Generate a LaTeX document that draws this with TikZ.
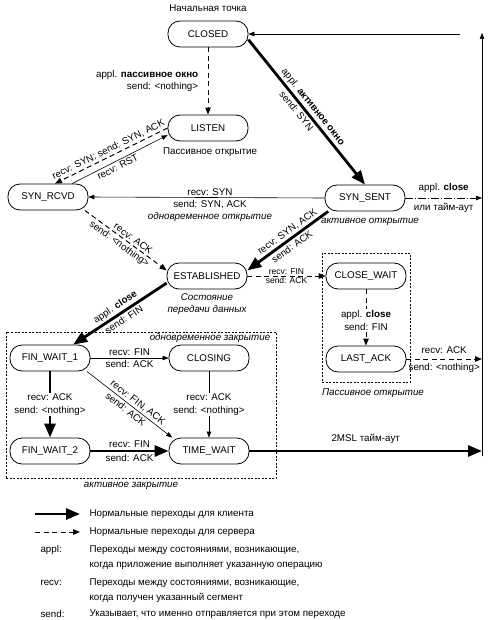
\documentclass[tikz,border=0pt]{standalone}
\usepackage{fontspec}
\setmainfont{Liberation Sans}
\usetikzlibrary{arrows.meta}
\begin{document}
\begin{tikzpicture}[x=1pt,y=-1pt,
  font=\fontsize{9.8}{11}\selectfont,
  state/.style={draw, rectangle, rounded corners=12pt, line width=0.8pt, minimum width=80pt, minimum height=26pt, inner sep=1pt},
  thickarr/.style={line width=2.8pt, -{Triangle[length=14pt,width=11pt]}},
  thinarr/.style={line width=0.6pt, -{Triangle[length=6pt,width=4.5pt]}},
  dasharr/.style={line width=1pt, dash pattern=on 5pt off 3.5pt, -{Triangle[length=7pt,width=5.5pt]}},
  dotarr/.style={line width=0.6pt, dash pattern=on 8pt off 2pt on 1pt off 2pt, -{Triangle[length=6pt,width=4.5pt]}},
  frame/.style={draw, line width=0.6pt, dash pattern=on 2pt off 1.5pt},
  lbl/.style={inner sep=2pt},
  itl/.style={font=\fontsize{9.8}{11}\selectfont\itshape},
  small/.style={font=\fontsize{8.5}{9}\selectfont, inner sep=0.5pt},
  wlbl/.style={fill=white, align=center, inner sep=1pt, font=\fontsize{9.8}{12.5}\selectfont},
]
\useasboundingbox (0,0) rectangle (488,620);

% states
\node[state] (closed) at (208,34) {CLOSED};
\node[state] (listen) at (208,128) {LISTEN};
\node[state] (synrcvd) at (48,197) {SYN\_RCVD};
\node[state] (synsent) at (365,198) {SYN\_SENT};
\node[state] (estab) at (207,276) {ESTABLISHED};
\node[state] (closewait) at (366,276) {CLOSE\_WAIT};
\node[state] (lastack) at (366,359) {LAST\_ACK};
\node[state] (fw1) at (50,358) {FIN\_WAIT\_1};
\node[state] (closing) at (209,358) {CLOSING};
\node[state] (fw2) at (50,451) {FIN\_WAIT\_2};
\node[state] (timewait) at (209,451) {TIME\_WAIT};

% helper coordinates
\coordinate (br) at (482,451);
\coordinate (bv) at (482,456);
\coordinate (tr) at (482,33);
\coordinate (tl) at (460,34);
\coordinate (rs) at (482,198);
\coordinate (rl) at (482,359);

% boxes
\node[frame, minimum width=88pt, minimum height=129pt] (pbox) at (366,317.5) {};
\node[frame, minimum width=270pt, minimum height=146pt] (abox) at (141,405) {};

% free labels
\node (start) at (208,8) {Начальная точка};
\node (plisten) at (210,152) {Пассивное открытие};
\node[itl] (simopen) at (210,217) {одновременное открытие};
\node[itl] (actopen) at (370,222) {активное открытие};
\node[itl, align=center, font=\fontsize{9.8}{12}\selectfont\itshape] (dtrans) at (207,304) {Состояние\\передачи данных};
\node[itl] (pclose) at (373,393) {Пассивное открытие};
\node[itl] (simclose) at (210,338) {одновременное закрытие};
\node[itl] (actclose) at (131,486) {активное закрытие};

% transitions
\draw[dasharr] (closed.south) -- (listen.north)
  node[midway, left=6pt, align=right, font=\fontsize{9.8}{12}\selectfont] {appl. \textbf{пассивное окно}\\send: <nothing>};
\draw[thickarr] (closed.-8) -- (synsent.north)
  node[pos=0.5, sloped, above, lbl] {appl. \textbf{активное окно}}
  node[pos=0.46, sloped, below, lbl] {send: SYN};
\draw[dasharr] (listen.west) -- ([xshift=7pt]synrcvd.north)
  node[midway, sloped, above, lbl] {recv: SYN; send: SYN, ACK};
\draw[thinarr] ([xshift=24pt]synrcvd.north) -- (listen.-170)
  node[pos=0.45, sloped, below, lbl] {recv: RST};
\draw[thinarr] (synsent.west) -- (synrcvd.east);
\node (l1) at (210,192) {recv: SYN};
\node (l2) at (210,205) {send: SYN, ACK};
\draw[dasharr] (synrcvd.-20) -- (estab.172)
  node[pos=0.55, sloped, above, lbl] {recv: ACK}
  node[pos=0.47, sloped, below, lbl] {send: <nothing>};
\draw[thickarr] (synsent.-160) -- (estab.8)
  node[pos=0.45, sloped, above, lbl] {recv: SYN, ACK}
  node[pos=0.5, sloped, below, lbl] {send: ACK};
\draw[dasharr] (estab.east) -- (closewait.west)
  node[midway, above, small] {recv: FIN}
  node[midway, below, small] {send: ACK};
\draw[dasharr] (closewait.south) -- (lastack.north)
  node[pos=0.55, wlbl] {appl. \textbf{close}\\send: FIN};
\draw[thickarr] (estab.-170) -- (fw1.30)
  node[midway, sloped, above, lbl] {appl. \textbf{close}}
  node[midway, sloped, below, lbl] {send: FIN};
\draw[thinarr] (fw1.east) -- (closing.west)
  node[midway, above, lbl] {recv: FIN}
  node[midway, below, lbl] {send: ACK};
\draw[thinarr] (fw1.-20) -- (timewait.160)
  node[pos=0.55, sloped, above, lbl] {recv: FIN, ACK}
  node[pos=0.5, sloped, below, lbl] {send: ACK};
\draw[thickarr] (fw1.south) -- (fw2.north)
  node[midway, wlbl] {recv: ACK\\send: <nothing>};
\draw[thinarr] (closing.south) -- (timewait.north)
  node[midway, wlbl] {recv: ACK\\send: <nothing>};
\draw[thickarr] (fw2.east) -- (timewait.west)
  node[midway, above, lbl] {recv: FIN}
  node[midway, below, lbl] {send: ACK};
\draw[thickarr] (timewait.east) -- (br)
  node[midway, above=3pt] {2MSL тайм-аут};
\draw[thinarr] (bv) -- (tr);
\draw[thinarr] (tl) -- (closed.east);
\draw[dotarr] (synsent.east) -- (rs)
  node[midway, above=2pt] {appl. \textbf{close}}
  node[midway, below=2pt] {или тайм-аут};
\draw[dasharr] (lastack.east) -- (rl)
  node[midway, above=2pt] {recv: ACK}
  node[midway, below=1pt] {send: <nothing>};

% legend
\coordinate (la1) at (35,514);
\coordinate (lb1) at (80,514);
\coordinate (la2) at (35,532);
\coordinate (lb2) at (80,532);
\draw[thickarr] (la1) -- (lb1);
\draw[dasharr] (la2) -- (lb2);
\node[anchor=west] (t1) at (86,514) {Нормальные переходы для клиента};
\node[anchor=west] (t2) at (86,532) {Нормальные переходы для сервера};
\node[anchor=west] (k1) at (37,550) {appl:};
\node[anchor=west] (t3) at (86,550) {Переходы между состояниями, возникающие,};
\node[anchor=west] (t4) at (86,566) {когда приложение выполняет указанную операцию};
\node[anchor=west] (k2) at (37,583) {recv:};
\node[anchor=west] (t5) at (86,583) {Переходы между состояниями, возникающие,};
\node[anchor=west] (t6) at (86,598) {когда получен указанный сегмент};
\node[anchor=west] (k3) at (37,614) {send:};
\node[anchor=west] (t7) at (86,614) {Указывает, что именно отправляется при этом переходе};
\end{tikzpicture}
\end{document}
